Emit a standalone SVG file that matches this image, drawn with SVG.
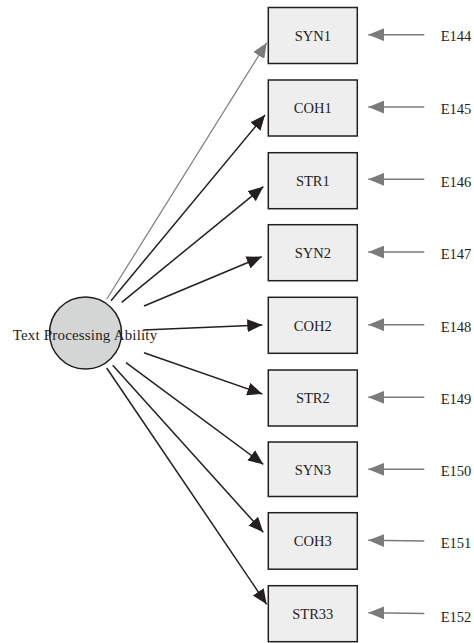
<svg xmlns="http://www.w3.org/2000/svg" width="474" height="643" viewBox="0 0 474 643">
<style>
.box{fill:#eeeeee;stroke:#231f20;stroke-width:1.5}
.t{font-family:"Liberation Serif","Times New Roman",serif;font-size:14.5px;fill:#231f20}
.c{text-anchor:middle}
.blk{stroke:#231f20;stroke-width:1.5;fill:none;marker-end:url(#hb)}
.gry{stroke:#7b7b7b;stroke-width:1.2;fill:none;marker-end:url(#hg)}
.err{stroke:#7b7b7b;stroke-width:1.5;fill:none;marker-end:url(#he)}
</style>
<defs>
<marker id="hb" markerUnits="userSpaceOnUse" markerWidth="16" markerHeight="13" refX="15" refY="6.5" orient="auto"><path d="M0,0 L15,6.5 L0,13 z" fill="#231f20"/></marker>
<marker id="hg" markerUnits="userSpaceOnUse" markerWidth="16" markerHeight="13" refX="15" refY="6.5" orient="auto"><path d="M0,0 L15,6.5 L0,13 z" fill="#7b7b7b"/></marker>
<marker id="he" markerUnits="userSpaceOnUse" markerWidth="17" markerHeight="13" refX="16" refY="6.5" orient="auto"><path d="M0,0 L16,6.5 L0,13 z" fill="#7b7b7b"/></marker>
</defs>
<g id="connectors">
<line class="gry" x1="106.7" y1="299.3" x2="266.7" y2="42.7"/>
<line class="blk" x1="111" y1="300.7" x2="265" y2="115"/>
<line class="blk" x1="121.7" y1="302.3" x2="263.3" y2="186.7"/>
<line class="blk" x1="144" y1="306" x2="261.7" y2="256.7"/>
<line class="blk" x1="143.3" y1="330" x2="262.3" y2="325"/>
<line class="blk" x1="144" y1="352.7" x2="262.3" y2="394"/>
<line class="blk" x1="126" y1="362.7" x2="263.3" y2="464.3"/>
<line class="blk" x1="112.7" y1="365.3" x2="263.3" y2="532.3"/>
<line class="blk" x1="106.7" y1="368" x2="266.7" y2="604.3"/>
<line class="err" x1="424.3" y1="34.7" x2="368.3" y2="34.7"/>
<line class="err" x1="424.3" y1="107" x2="368.3" y2="107"/>
<line class="err" x1="424.3" y1="179.3" x2="368.3" y2="179.3"/>
<line class="err" x1="424.3" y1="252" x2="368.3" y2="252"/>
<line class="err" x1="424.3" y1="324.7" x2="368.3" y2="324.7"/>
<line class="err" x1="424.3" y1="397.3" x2="368.3" y2="397.3"/>
<line class="err" x1="424.3" y1="469.3" x2="368.3" y2="469.3"/>
<line class="err" x1="424.3" y1="541" x2="368.3" y2="540.3"/>
<line class="err" x1="424.3" y1="613.5" x2="368.3" y2="612.7"/>
</g>
<g id="latent">
<circle cx="85.5" cy="333" r="36" fill="#d4d6d5" stroke="#231f20" stroke-width="1.5"/>
<text class="t" x="12.7" y="339.5" textLength="144.5" style="font-size:15px">Text Processing Ability</text>
</g>
<g id="SYN1"><rect class="box" x="268.3" y="7.5" width="89" height="56"/><text class="t c" x="312.8" y="41">SYN1</text></g>
<g id="COH1"><rect class="box" x="268.3" y="80" width="89" height="56"/><text class="t c" x="312.8" y="113">COH1</text></g>
<g id="STR1"><rect class="box" x="268.3" y="152.7" width="89" height="56"/><text class="t c" x="312.8" y="186">STR1</text></g>
<g id="SYN2"><rect class="box" x="268.3" y="224.7" width="89" height="56"/><text class="t c" x="312.8" y="258.3">SYN2</text></g>
<g id="COH2"><rect class="box" x="268.3" y="297.3" width="89" height="56"/><text class="t c" x="312.8" y="331">COH2</text></g>
<g id="STR2"><rect class="box" x="268.3" y="370" width="89" height="56"/><text class="t c" x="312.8" y="403.3">STR2</text></g>
<g id="SYN3"><rect class="box" x="268.3" y="442" width="89" height="54.5"/><text class="t c" x="312.8" y="475">SYN3</text></g>
<g id="COH3"><rect class="box" x="268.3" y="512.7" width="89" height="56.5"/><text class="t c" x="312.8" y="546">COH3</text></g>
<g id="STR33"><rect class="box" x="268.3" y="585.7" width="89" height="56"/><text class="t c" x="312.8" y="619.3">STR33</text></g>
<g id="E144"><text class="t" x="440.7" y="41">E144</text></g>
<g id="E145"><text class="t" x="440.7" y="114">E145</text></g>
<g id="E146"><text class="t" x="440.7" y="186.7">E146</text></g>
<g id="E147"><text class="t" x="440.7" y="259">E147</text></g>
<g id="E148"><text class="t" x="440.7" y="332">E148</text></g>
<g id="E149"><text class="t" x="440.7" y="404">E149</text></g>
<g id="E150"><text class="t" x="440.7" y="476">E150</text></g>
<g id="E151"><text class="t" x="440.7" y="548.3">E151</text></g>
<g id="E152"><text class="t" x="440.7" y="621.7">E152</text></g>
</svg>
